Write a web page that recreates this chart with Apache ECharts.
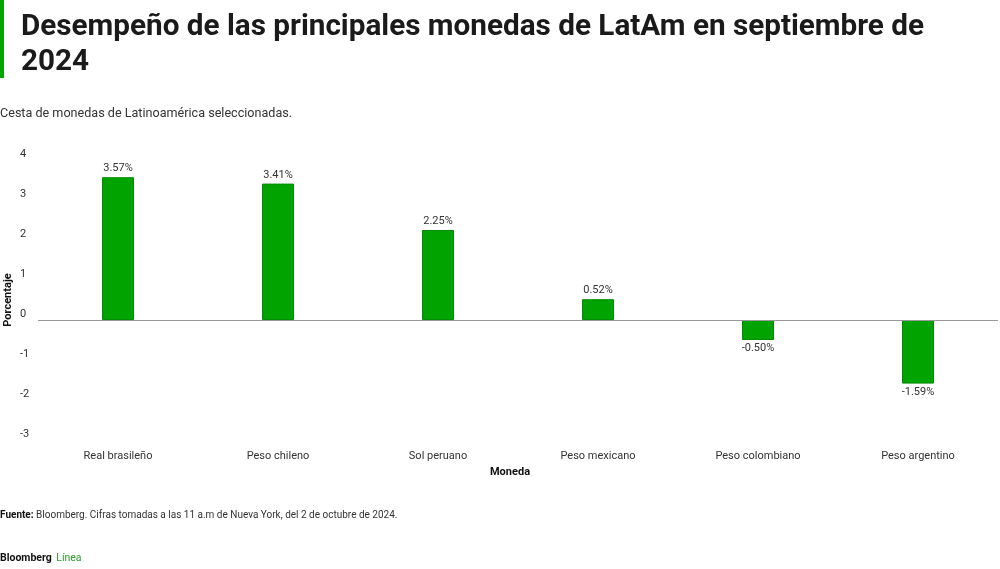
<!DOCTYPE html>
<html>
<head>
<meta charset="utf-8">
<title>Monedas LatAm</title>
<script src="https://cdn.jsdelivr.net/npm/echarts@6/dist/echarts.min.js"></script>
<style>
    html, body { margin: 0; padding: 0; background: #fff; }
    #main { width: 1000px; height: 569px; }
</style>
</head>
<body>
<div id="main"></div>
<script>
    // datos
    var monedas = ['Real brasileño', 'Peso chileno', 'Sol peruano', 'Peso mexicano', 'Peso colombiano', 'Peso argentino'];
    var variacion = [3.57, 3.41, 2.25, 0.52, -0.50, -1.59];
    var ticksY = [-3, -2, -1, 0, 1, 2, 3, 4];

    var verde = '#00a300';
    var fuente = 'Roboto, "Noto Sans", sans-serif';

    var chart = echarts.init(document.getElementById('main'));

    var datos = variacion.map(function (v) {
        return {
            value: v,
            label: { position: v >= 0 ? 'top' : 'bottom' }
        };
    });

    chart.setOption({
        textStyle: { fontFamily: fuente },
        title: [
            {
                text: 'Desempeño de las principales monedas de LatAm en septiembre de\n2024',
                left: 21, top: 10, padding: 0,
                textStyle: { fontSize: 29.7, fontWeight: 'bold', color: '#1a1a1a', lineHeight: 35, fontFamily: fuente }
            },
            {
                text: 'Cesta de monedas de Latinoamérica seleccionadas.',
                left: 0, top: 107, padding: 0,
                textStyle: { fontSize: 12.6, fontWeight: 'normal', color: '#333', fontFamily: fuente }
            },
            {
                text: '{b|Fuente:} Bloomberg. Cifras tomadas a las 11 a.m de Nueva York, del 2 de octubre de 2024.',
                left: 0, top: 510, padding: 0,
                textStyle: {
                    fontSize: 10, fontWeight: 'normal', color: '#333', fontFamily: fuente,
                    rich: { b: { fontSize: 10, fontWeight: 'bold', color: '#111', fontFamily: fuente } }
                }
            },
            {
                text: '{b|Bloomberg} {g|Línea}',
                left: 0, top: 549, padding: 0,
                textStyle: {
                    rich: {
                        b: { fontSize: 10.5, fontWeight: 'bold', color: '#111', fontFamily: fuente },
                        g: { fontSize: 10.5, fontWeight: 'normal', color: '#2a9d2a', fontFamily: fuente }
                    }
                }
            }
        ],
        graphic: [
            { type: 'rect', left: 0, top: 0, shape: { width: 4, height: 78 }, style: { fill: verde } }
        ],
        grid: { left: 38, right: 2, top: 160, bottom: 129, outerBoundsMode: 'none', containLabel: false },
        xAxis: {
            type: 'category',
            data: monedas,
            name: 'Moneda',
            nameLocation: 'middle',
            nameGap: 27,
            nameTextStyle: { fontSize: 11, fontWeight: 'bold', color: '#111', padding: [0, 16, 0, 0] },
            axisLine: { show: false, onZero: false },
            axisTick: { show: false },
            axisLabel: { fontSize: 11, color: '#333', margin: 11 }
        },
        yAxis: {
            type: 'value',
            min: -3, max: 4, interval: 1,
            name: 'Porcentaje',
            nameLocation: 'middle',
            nameGap: 24,
            nameMoveOverlap: false,
            nameTextStyle: { fontSize: 11, fontWeight: 'bold', color: '#111' },
            axisLine: { show: false },
            axisTick: { show: false },
            splitLine: { show: false },
            axisLabel: {
                fontSize: 11, color: '#333', align: 'left', margin: 18, verticalAlign: 'bottom',
                formatter: function (v) { return ticksY.indexOf(v) >= 0 ? String(v) : ''; }
            }
        },
        series: [{
            type: 'bar',
            data: datos,
            barWidth: 32,
            itemStyle: { color: verde, borderColor: '#008c00', borderWidth: 1 },
            label: {
                show: true, fontSize: 11, color: '#333', distance: 3,
                formatter: function (p) { return p.value.toFixed(2) + '%'; }
            },
            markLine: {
                silent: true,
                symbol: 'none',
                label: { show: false },
                lineStyle: { color: '#999', width: 1, type: 'solid' },
                data: [{ yAxis: 0 }]
            }
        }]
    });

    window.onresize = chart.resize;
</script>
</body>
</html>
